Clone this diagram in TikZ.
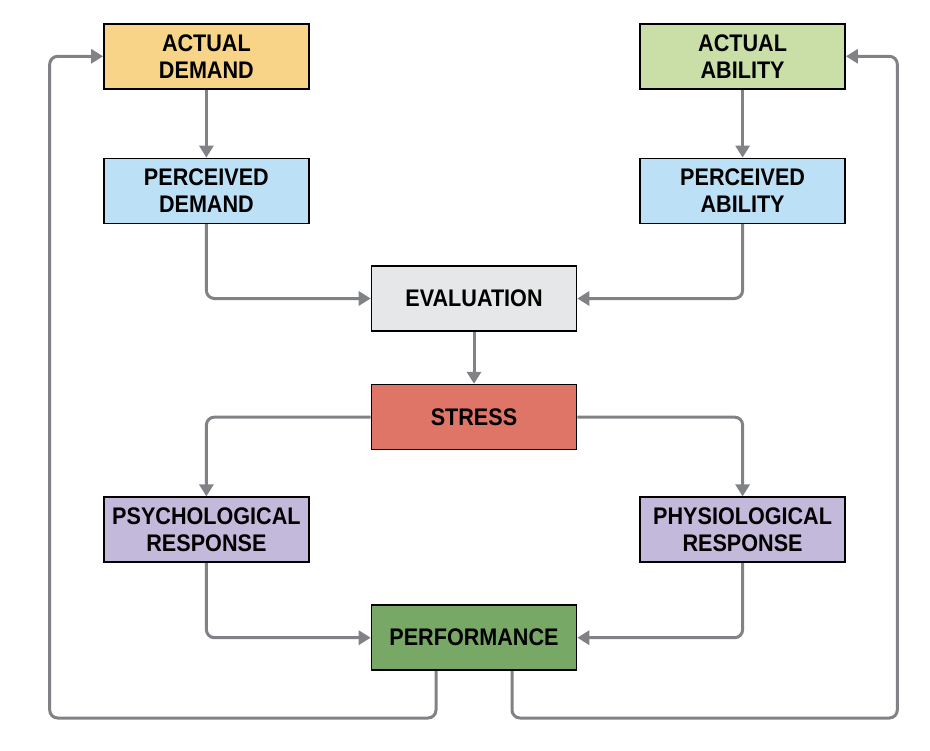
\documentclass[tikz,border=0pt]{standalone}
\usepackage{fontspec}
\setmainfont{Liberation Sans}[FakeStretch=0.9]
\usepackage{xcolor}
\usepackage{tikz}
\usetikzlibrary{arrows.meta,positioning}

\definecolor{demandorange}{HTML}{F8D488}
\definecolor{abilitygreen}{HTML}{CADFA7}
\definecolor{percblue}{HTML}{BCE0F6}
\definecolor{evalgray}{HTML}{E6E7E8}
\definecolor{stressred}{HTML}{DE7566}
\definecolor{resppurple}{HTML}{C3B9DA}
\definecolor{perfgreen}{HTML}{77A866}
\definecolor{linkgray}{HTML}{808285}

\begin{document}
\begin{tikzpicture}[node distance=34pt, every node/.style={font=\fontsize{12}{13.5}\selectfont\bfseries}, box/.style={draw, line width=0.8pt, align=center, minimum width=102.5pt, minimum height=32.5pt, inner sep=2pt}, link/.style={draw=linkgray, line width=1.5pt, rounded corners=4pt, -{Triangle[length=6pt,width=7pt]}}]
\useasboundingbox (-237pt,149.25pt) rectangle (228pt,-225.75pt);
\node[box, fill=evalgray] (eval) {EVALUATION};
\node[box, fill=stressred, below=26pt of eval] (stress) {STRESS};
\node[box, fill=percblue, above left=20.5pt and 30.5pt of eval] (pdemand) {PERCEIVED\\DEMAND};
\node[box, fill=percblue, above right=20.5pt and 31pt of eval] (pability) {PERCEIVED\\ABILITY};
\node[box, fill=demandorange, above=of pdemand] (ademand) {ACTUAL\\DEMAND};
\node[box, fill=abilitygreen, above=of pability] (aability) {ACTUAL\\ABILITY};
\node[box, fill=resppurple, below left=23pt and 30.5pt of stress] (psych) {PSYCHOLOGICAL\\RESPONSE};
\node[box, fill=resppurple, below right=23pt and 31pt of stress] (physio) {PHYSIOLOGICAL\\RESPONSE};
\node[box, fill=perfgreen, below=77pt of stress] (perf) {PERFORMANCE};
\coordinate[below left=23.5pt and 160.5pt of perf] (lloop);
\coordinate[below right=23.5pt and 160pt of perf] (rloop);
\draw[link] (ademand) -- (pdemand);
\draw[link] (aability) -- (pability);
\draw[link] (pdemand) |- (eval);
\draw[link] (pability) |- (eval);
\draw[link] (eval) -- (stress);
\draw[link] (stress) -| (psych);
\draw[link] (stress) -| (physio);
\draw[link] (psych) |- (perf);
\draw[link] (physio) |- (perf);
\draw[link] ([xshift=-19pt]perf.south) |- (lloop) |- (ademand);
\draw[link] ([xshift=19pt]perf.south) |- (rloop) |- (aability);
\end{tikzpicture}
\end{document}
